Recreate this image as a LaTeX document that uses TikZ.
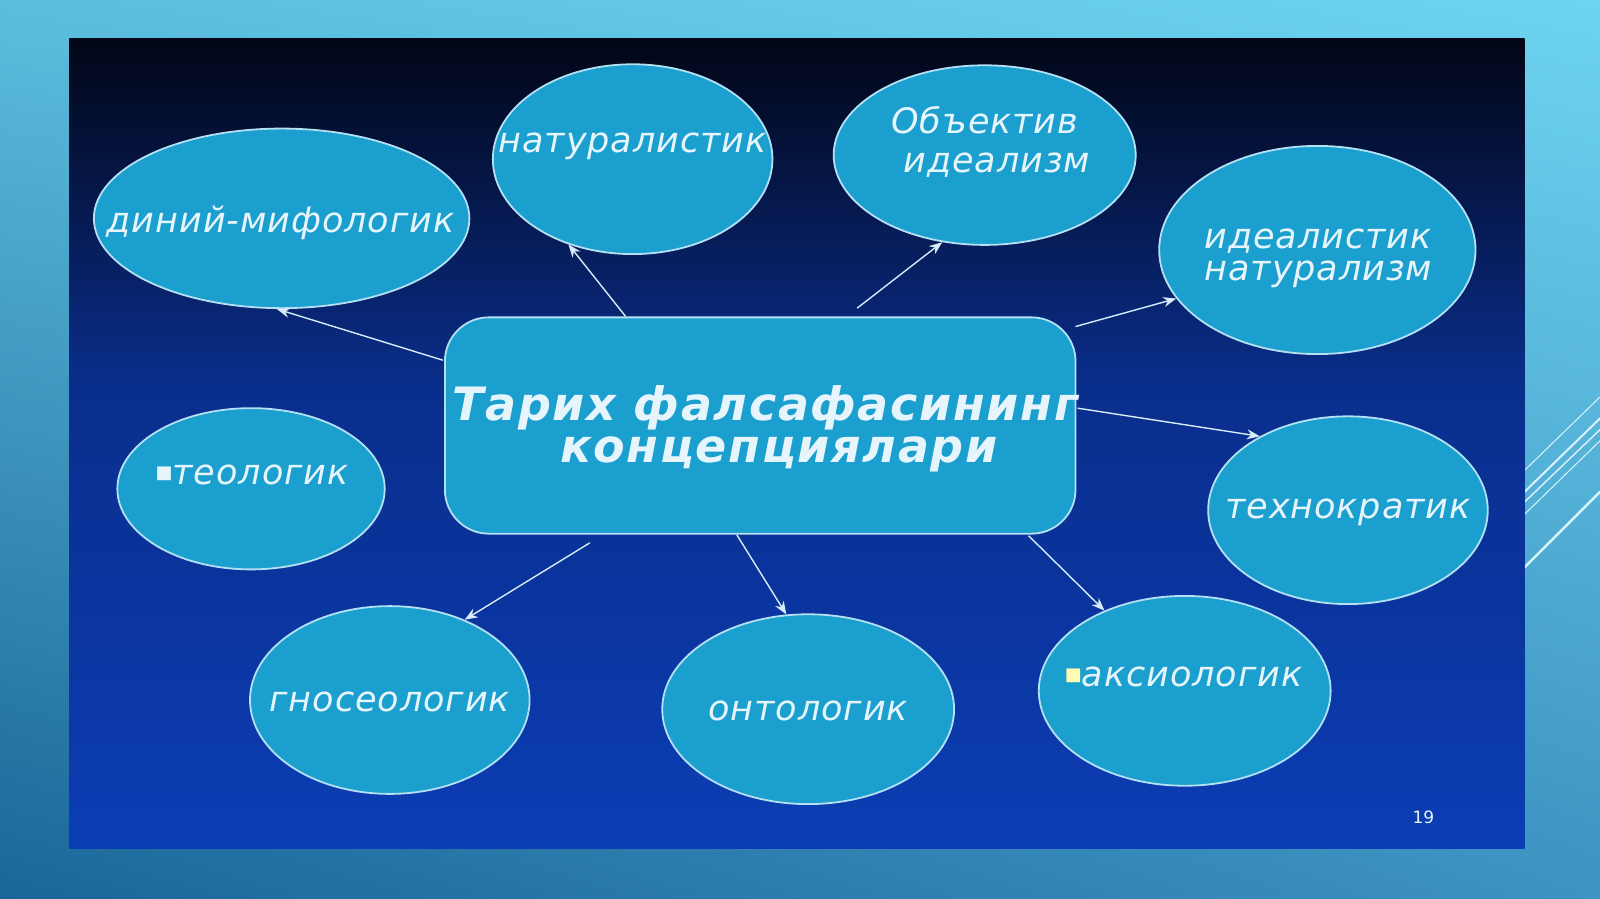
\documentclass[tikz,border=0pt]{standalone}
\usepackage{fontspec}
\setmainfont{DejaVu Sans}
\usetikzlibrary{arrows.meta,shapes.geometric,shadings}
\definecolor{bubfill}{HTML}{1A9FCE}
\definecolor{bubline}{HTML}{B4E0F4}
\definecolor{txtc}{HTML}{E6F5FC}
\definecolor{arrc}{HTML}{D6ECF8}
\definecolor{bgul}{HTML}{5CBEDD}
\definecolor{bgur}{HTML}{6ED4F0}
\definecolor{bgll}{HTML}{1A6598}
\definecolor{bglr}{HTML}{3D93C2}
\definecolor{dtop}{HTML}{020616}
\definecolor{dmid}{HTML}{0A2E8C}
\definecolor{dbot}{HTML}{0B3DB4}
\def\pxu{0.5102pt}
\newcommand\bubfont{\fontsize{17.5}{21}\selectfont\itshape\addfontfeatures{LetterSpace=2.7}}
\begin{document}
\begin{tikzpicture}[x=0.5102pt,y=-0.5102pt,
  bub/.style={ellipse,fill=bubfill,draw=bubline,line width=0.9pt,inner sep=0pt},
  btxt/.style={text=txtc,font=\bubfont,align=center,inner sep=0pt},
  ctxt/.style={text=txtc,font=\fontsize{23}{27}\selectfont\bfseries\itshape\addfontfeatures{LetterSpace=3.5},align=center,inner sep=0pt},
  conn/.style={draw=arrc,line width=0.7pt,-{Stealth[length=6.5pt,width=5pt]}},
  deco/.style={draw=white!85!cyan,line cap=round}]
\useasboundingbox (0,0) rectangle (1568,881);
% outer background
\shade[upper left=bgul,upper right=bgur,lower left=bgll,lower right=bglr] (0,0) rectangle (1568,881);
% decorative lines at right
\draw[deco,line width=0.5pt] (1494,461) -- (1568,389);
\draw[deco,line width=1pt] (1494,482) -- (1568,410);
\draw[deco,line width=0.7pt] (1494,492) -- (1568,421);
\draw[deco,line width=0.5pt] (1494,504) -- (1568,432);
\draw[deco,line width=1.3pt] (1494,556) -- (1568,482);
% dark panel
\shade[top color=dtop,bottom color=dmid] (68,38) rectangle (1494,380);
\shade[top color=dmid,bottom color=dbot] (68,379.5) rectangle (1494,832);
% center node
\node[fill=bubfill,draw=bubline,line width=0.9pt,rounded corners=22pt,
  minimum width={618*\pxu},minimum height={212*\pxu},inner sep=0pt] (c) at (745,417) {};
\node[ctxt] (ct) at (750,420) {Тарих фалсафасининг\\[-6pt]\hspace*{0.6em}концепциялари};
% bubbles
\node[bub,minimum width={368*\pxu},minimum height={176*\pxu}] (din) at (276,214) {};
\node[btxt] (dint) at (275,218) {диний-мифологик};
\node[bub,minimum width={274*\pxu},minimum height={186*\pxu}] (nat) at (620,156) {};
\node[btxt] (natt) at (620,143) {натуралистик};
\node[bub,minimum width={296*\pxu},minimum height={176*\pxu}] (obj) at (965,152) {};
\node[btxt,align=left] (objt) at (971,139) {Объектив\\[-1.5pt]\hspace*{0.35em}идеализм};
\node[bub,minimum width={310*\pxu},minimum height={204*\pxu}] (ide) at (1291,245) {};
\node[btxt,align=left] (idet) at (1292,253) {идеалистик\\[-5pt]натурализм};
\node[bub,minimum width={262*\pxu},minimum height={158*\pxu}] (teo) at (246,479) {};
\node[btxt] (teot) at (247,465) {{\fontsize{9}{9}\selectfont\upshape\raisebox{3pt}{■}}теологик};
\node[bub,minimum width={274*\pxu},minimum height={184*\pxu}] (tex) at (1321,500) {};
\node[btxt] (text) at (1321,502) {технократик};
\node[bub,minimum width={274*\pxu},minimum height={184*\pxu}] (gno) at (382,686) {};
\node[btxt] (gnot) at (382,688) {гносеологик};
\node[bub,minimum width={286*\pxu},minimum height={186*\pxu}] (ont) at (792,695) {};
\node[btxt] (ontt) at (792,697) {онтологик};
\node[bub,minimum width={286*\pxu},minimum height={186*\pxu}] (aks) at (1161,677) {};
\node[btxt] (akst) at (1160,663) {{\fontsize{9}{9}\selectfont\upshape\raisebox{3pt}{\textcolor{yellow!30!white}{■}}}аксиологик};
% page number
\node[text=txtc,font=\fontsize{8.5}{10}\selectfont] (pg) at (1395,801) {19};
% connector start points
\coordinate (s1) at (434,353);
\coordinate (s2) at (613,310);
\coordinate (s3) at (840,302);
\coordinate (s4) at (1054,320);
\coordinate (s5) at (1056,400);
\coordinate (s6) at (1008,525);
\coordinate (s7) at (722,524);
\coordinate (s8) at (578,532);
\draw[conn] (s1) -- (din.267);
\draw[conn] (s2) -- (nat.233);
\draw[conn] (s3) -- (obj.244);
\draw[conn] (s4) -- (ide.199);
\draw[conn] (s5) -- (tex.140);
\draw[conn] (s6) -- (aks.135);
\draw[conn] (s7) -- (ont.103);
\draw[conn] (s8) -- (gno.47);
\end{tikzpicture}
\end{document}
